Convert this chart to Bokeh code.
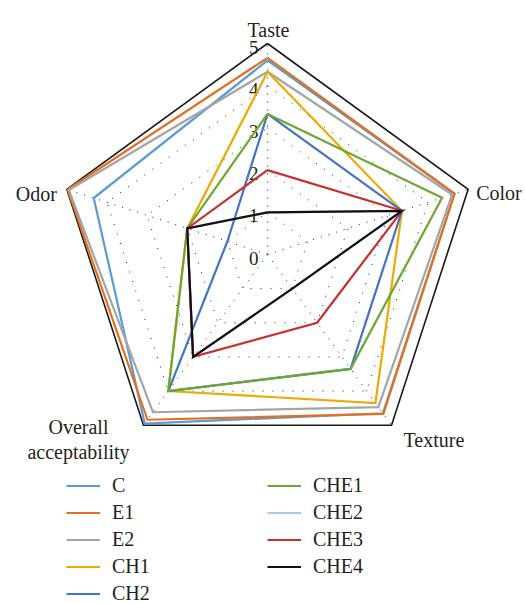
import math

from bokeh.core.properties import value
from bokeh.embed import file_html
from bokeh.models import Legend, LegendItem, Range1d
from bokeh.plotting import figure
from bokeh.resources import INLINE

# Sensory attributes (clockwise from the top) and the score ticks
attributes = ["Taste", "Color", "Texture", "Overall\nacceptability", "Odor"]
ticks = [0, 1, 2, 3, 4, 5]

# Mean sensory scores per sample, in the order of `attributes`
C = [4.60, 4.66, 4.65, 4.95, 4.33]
E1 = [4.66, 4.66, 4.67, 4.84, 4.98]
E2 = [4.33, 4.60, 4.47, 4.62, 4.95]
CH1 = [4.33, 3.35, 4.35, 4.00, 2.00]
CH2 = [3.33, 3.35, 3.35, 4.00, 1.00]
CHE1 = [3.33, 4.35, 3.35, 4.00, 2.00]
CHE2 = [1.00, 3.35, 1.00, 3.00, 2.00]
CHE3 = [2.00, 3.35, 2.00, 3.00, 2.00]
CHE4 = [1.00, 3.35, 1.00, 3.00, 2.00]

series_names = ["C", "E1", "E2", "CH1", "CH2", "CHE1", "CHE2", "CHE3", "CHE4"]
series_values = [C, E1, E2, CH1, CH2, CHE1, CHE2, CHE3, CHE4]
series_colors = ["#5b9bd5", "#e4701f", "#a5a5a5", "#edaa00", "#4472c4",
                 "#6aa832", "#a9c8ea", "#c8302b", "#111111"]

FONT = "Liberation Serif"
TEXT_COLOR = "#231f20"

W, H = 525, 603
PX = 42.2             # pixels per score unit
CX, CY = 267, 254     # pixel position of the radar centre

n = len(attributes)
angles = [math.pi / 2 - k * 2 * math.pi / n for k in range(n)]


def ring(vals):
    xs = [v * math.cos(a) for v, a in zip(vals, angles)]
    ys = [v * math.sin(a) for v, a in zip(vals, angles)]
    return xs + xs[:1], ys + ys[:1]


p = figure(width=W, height=H,
           x_range=Range1d(-CX / PX, (W - CX) / PX),
           y_range=Range1d(-(H - CY) / PX, CY / PX),
           output_backend="svg", toolbar_location=None,
           x_axis_location=None, y_axis_location=None,
           min_border=0, min_border_left=0, min_border_right=0,
           min_border_top=0, min_border_bottom=0)
p.grid.visible = False
p.outline_line_color = None
p.background_fill_color = "white"

top = ticks[-1]

# dotted inner rings and spokes, solid outer ring
for t in ticks[1:-1]:
    xs, ys = ring([t] * n)
    p.line(xs, ys, line_color="#222222", line_width=1, line_dash="1 9")
for a in angles:
    p.line([0, top * math.cos(a)], [0, top * math.sin(a)],
           line_color="#222222", line_width=1, line_dash="1 7")
xs, ys = ring([top] * n)
p.line(xs, ys, line_color="#1a1a1a", line_width=1.6, line_join="miter")

# score labels along the vertical spoke
p.text(x=[0] * len(ticks), y=ticks, text=[str(t) for t in ticks],
       text_align="right", text_baseline="middle", x_offset=-9, y_offset=3.5,
       text_font=value(FONT), text_font_size="19px", text_color=TEXT_COLOR)

# attribute names around the outer ring
label_style = [
    dict(align="center", dx=1, dy=-14),
    dict(align="left", dx=8, dy=4),
    dict(align="left", dx=12, dy=15),
    dict(align="center", dx=-65, dy=2),
    dict(align="right", dx=-10, dy=4.5),
]
for name, a, st in zip(attributes, angles, label_style):
    for i, line in enumerate(name.split("\n")):
        p.text(x=[top * math.cos(a)], y=[top * math.sin(a)], text=[line],
               text_align=st["align"], text_baseline="alphabetic",
               x_offset=st["dx"], y_offset=st["dy"] + 25 * i,
               text_font=value(FONT), text_font_size="20px",
               text_color=TEXT_COLOR)

# one closed polygon per sample
items = []
for name, vals, col in zip(series_names, series_values, series_colors):
    xs, ys = ring(vals)
    r = p.line(xs, ys, line_color=col, line_width=2.2, line_join="miter")
    items.append(LegendItem(label=name, renderers=[r]))

legend_style = dict(glyph_width=34, glyph_height=23, label_height=23,
                    spacing=4, label_standoff=12, padding=0, margin=0,
                    border_line_color=None, background_fill_alpha=0,
                    label_text_font=FONT, label_text_font_size="20px",
                    label_text_color=TEXT_COLOR)
p.add_layout(Legend(items=items[:5], location=(66, -2), **legend_style))
p.add_layout(Legend(items=items[5:], location=(267, 25), **legend_style))

open("out.html", "w").write(file_html(p, INLINE))
